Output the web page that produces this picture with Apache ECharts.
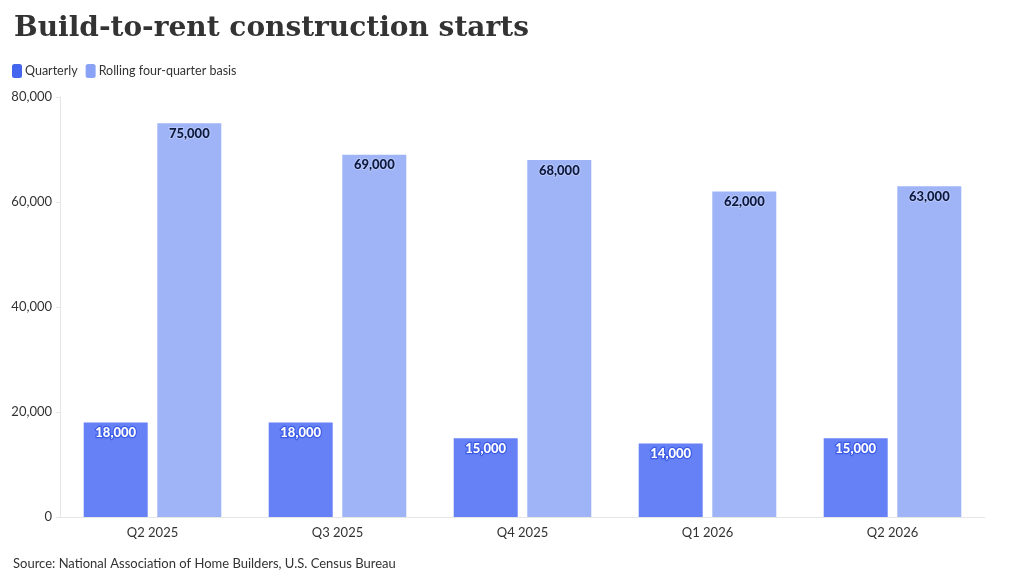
<!DOCTYPE html>
<html>
<head>
<meta charset="utf-8">
<script src="https://cdn.jsdelivr.net/npm/echarts@6/dist/echarts.min.js"></script>
<style>
  html, body { margin: 0; padding: 0; background: #fff; }
  #chart { width: 1020px; height: 581px; }
</style>
</head>
<body>
<div id="chart"></div>
<script>
const categories = ['Q2 2025', 'Q3 2025', 'Q4 2025', 'Q1 2026', 'Q2 2026'];
const quarterly = [18000, 18000, 15000, 14000, 15000];
const rolling = [75000, 69000, 68000, 62000, 63000];

const fmt = v => v.toLocaleString('en-US');

const chart = echarts.init(document.getElementById('chart'));
chart.setOption({
  animation: false,
  textStyle: { fontFamily: 'Lato' },
  title: [
    {
      text: 'Build-to-rent construction starts',
      left: 9, top: 10,
      textStyle: { fontFamily: 'DejaVu Serif', fontWeight: 'bold', fontSize: 28, color: '#333' }
    },
    {
      text: 'Source: National Association of Home Builders, U.S. Census Bureau',
      left: 8, top: 552,
      textStyle: { fontFamily: 'Lato', fontWeight: 'normal', fontSize: 13, color: '#333' }
    }
  ],
  legend: {
    left: 7, top: 59,
    itemWidth: 10, itemHeight: 14, itemGap: 8,
    icon: 'roundRect',
    textStyle: { fontFamily: 'Lato', fontSize: 12.5, color: '#333', padding: [0, 0, 0, -2] },
    data: [
      { name: 'Quarterly', itemStyle: { color: '#4465ee' } },
      { name: 'Rolling four-quarter basis', itemStyle: { color: '#8aa2f5' } }
    ]
  },
  grid: { left: 60, right: 35, top: 97, bottom: 64 },
  xAxis: {
    type: 'category',
    data: categories,
    axisLine: { lineStyle: { color: '#e6e6e6' } },
    axisTick: { alignWithLabel: true, length: 4, lineStyle: { color: '#e6e6e6' } },
    axisLabel: { color: '#333', fontSize: 13, margin: 9 }
  },
  yAxis: {
    type: 'value',
    min: 0, max: 80000, interval: 20000,
    axisLine: { show: true, lineStyle: { color: '#e6e6e6' } },
    axisTick: { show: true, length: 4, lineStyle: { color: '#e6e6e6' } },
    splitLine: { show: false },
    axisLabel: { color: '#333', fontSize: 13, margin: 8, formatter: fmt }
  },
  series: [
    {
      name: 'Quarterly',
      type: 'bar',
      data: quarterly,
      barWidth: 64,
      barGap: '15%',
      itemStyle: { color: '#6680f6' },
      label: {
        show: true, position: 'insideTop', distance: 4,
        formatter: p => fmt(p.value),
        color: '#fff', fontSize: 13, fontWeight: 900,
        textBorderColor: '#3d5ce6', textBorderWidth: 2.5
      }
    },
    {
      name: 'Rolling four-quarter basis',
      type: 'bar',
      data: rolling,
      barWidth: 64,
      itemStyle: { color: '#9fb4f7' },
      label: {
        show: true, position: 'insideTop', distance: 4,
        formatter: p => fmt(p.value),
        color: '#0d1a40', fontSize: 13, fontWeight: 900,
        textBorderColor: '#b8c7fa', textBorderWidth: 2
      }
    }
  ]
});
</script>
</body>
</html>
